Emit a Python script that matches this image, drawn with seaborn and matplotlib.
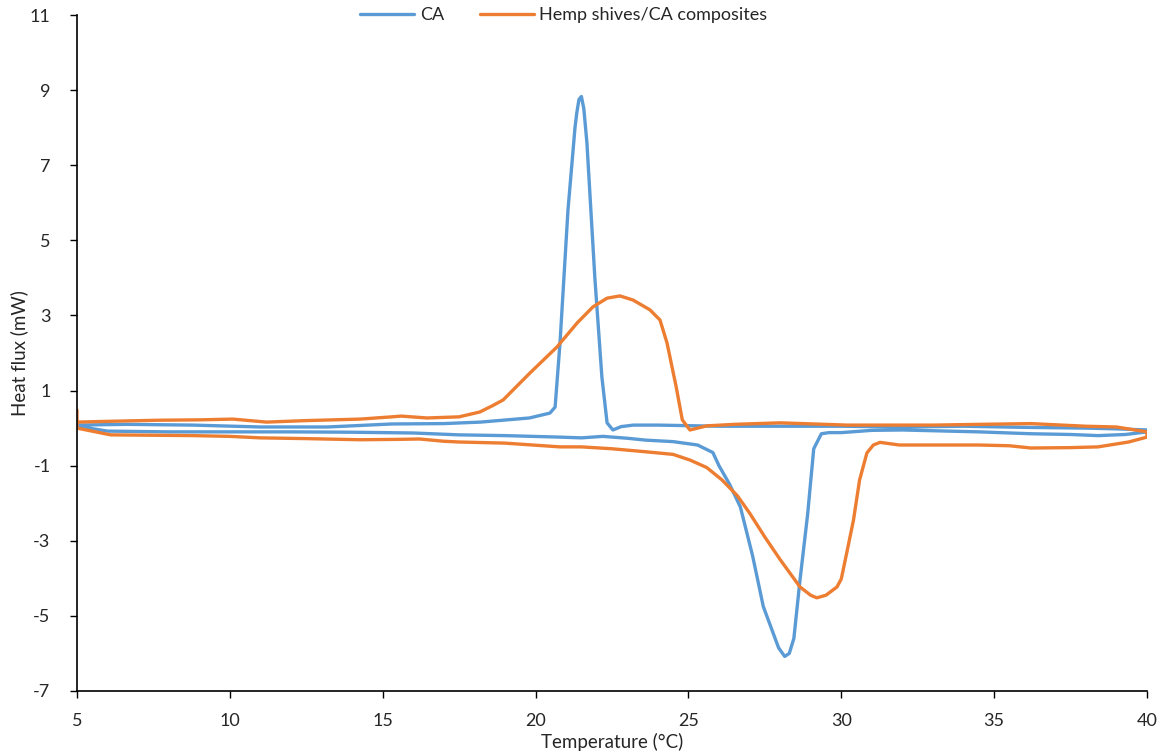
import pandas as pd
import matplotlib.pyplot as plt
import seaborn as sns

# CA: heating branch (5 -> 40 C), then cooling branch (40 -> 5 C)
ca_heat_t = [5.0, 6.0, 8.0, 10.0, 12.0, 14.0, 16.0, 17.5, 19.0, 20.8, 21.5, 22.2, 23.0, 23.6,
             24.5, 25.3, 25.8, 26.0, 26.35, 26.7, 27.1, 27.45, 27.7, 27.95, 28.15, 28.3, 28.45,
             28.65, 28.9, 29.1, 29.35, 29.6, 30.0, 31.0, 32.0, 33.0, 34.5, 36.2, 37.5, 38.4,
             39.3, 40.0]
ca_heat_v = [0.05, -0.08, -0.1, -0.1, -0.1, -0.11, -0.13, -0.18, -0.2, -0.24, -0.26, -0.22,
             -0.27, -0.32, -0.36, -0.45, -0.65, -1.0, -1.5, -2.1, -3.4, -4.75, -5.3, -5.85,
             -6.08, -6.0, -5.6, -4.05, -2.3, -0.55, -0.15, -0.12, -0.12, -0.06, -0.05, -0.07,
             -0.1, -0.15, -0.17, -0.2, -0.17, -0.1]
ca_cool_t = [40.0, 39.0, 38.0, 36.0, 34.0, 32.0, 30.0, 28.0, 26.0, 24.0, 23.2, 22.8, 22.53,
             22.34, 22.17, 21.94, 21.68, 21.58, 21.5, 21.42, 21.35, 21.29, 21.06, 20.8, 20.64,
             20.47, 19.8, 18.2, 17.0, 15.3, 13.2, 11.0, 8.8, 6.6, 5.0]
ca_cool_v = [-0.05, -0.02, 0.0, 0.02, 0.05, 0.03, 0.05, 0.05, 0.05, 0.08, 0.08, 0.04, -0.05,
             0.14, 1.36, 4.0, 7.6, 8.5, 8.83, 8.75, 8.4, 8.0, 5.8, 2.27, 0.56, 0.4, 0.27, 0.16,
             0.12, 0.11, 0.03, 0.03, 0.08, 0.1, 0.08]

# Hemp shives/CA composites
hc_heat_t = [5.0, 5.0, 6.1, 7.5, 8.8, 10.0, 11.0, 12.5, 14.26, 15.5, 16.2, 17.0, 17.5, 19.0,
             20.8, 21.5, 22.5, 23.6, 24.5, 25.05, 25.6, 26.1, 26.6, 27.0, 27.5, 28.0, 28.65,
             29.0, 29.2, 29.5, 29.86, 30.0, 30.18, 30.4, 30.6, 30.84, 31.05, 31.27, 31.9, 33.0,
             34.5, 35.5, 36.2, 37.5, 38.4, 39.4, 40.0]
hc_heat_v = [0.48, 0.0, -0.18, -0.19, -0.2, -0.22, -0.26, -0.28, -0.31, -0.3, -0.29, -0.35,
             -0.37, -0.4, -0.5, -0.5, -0.55, -0.63, -0.7, -0.85, -1.05, -1.38, -1.8, -2.26,
             -2.9, -3.5, -4.23, -4.45, -4.52, -4.45, -4.23, -4.02, -3.32, -2.45, -1.38, -0.66,
             -0.45, -0.38, -0.45, -0.45, -0.45, -0.47, -0.53, -0.52, -0.5, -0.37, -0.24]
hc_cool_t = [40.0, 39.0, 38.0, 36.2, 34.5, 33.0, 31.3, 30.2, 28.0, 26.5, 25.6, 25.2, 25.05,
             24.8, 24.6, 24.3, 24.07, 23.74, 23.19, 22.76, 22.34, 21.88, 21.36, 20.7, 19.82,
             18.94, 18.6, 18.18, 17.5, 16.45, 15.6, 15.3, 14.26, 12.5, 11.2, 10.1, 9.0, 7.7,
             6.0, 5.0]
hc_cool_v = [-0.1, 0.03, 0.05, 0.12, 0.1, 0.08, 0.08, 0.08, 0.14, 0.1, 0.06, -0.02, -0.05,
             0.22, 1.1, 2.27, 2.88, 3.15, 3.41, 3.52, 3.46, 3.23, 2.8, 2.16, 1.47, 0.75, 0.6,
             0.43, 0.3, 0.27, 0.32, 0.3, 0.24, 0.2, 0.16, 0.24, 0.22, 0.21, 0.18, 0.16]

labels = ["CA", "Hemp shives/CA composites"]
colors = ["#5B9BD5", "#ED7D31"]

frames = []
for lab, t, v in [(labels[0], ca_heat_t + ca_cool_t, ca_heat_v + ca_cool_v),
                  (labels[1], hc_heat_t + hc_cool_t, hc_heat_v + hc_cool_v)]:
    frames.append(pd.DataFrame({"temp": t, "flux": v, "series": lab}))
df = pd.concat(frames, ignore_index=True)

sns.set_style("ticks")
plt.rcParams['font.family'] = ['Lato', 'DejaVu Sans']
plt.rcParams['axes.unicode_minus'] = False

fig = plt.figure(figsize=(11.65, 7.55), dpi=100)
ax = fig.add_axes([0.0661, 0.0848, 0.9184, 0.8953])

sns.lineplot(data=df, x="temp", y="flux", hue="series", hue_order=labels,
             palette=colors, sort=False, estimator=None, linewidth=2.4, ax=ax)

ax.set_xlim(5, 40)
ax.set_ylim(-7, 11)
ax.set_xticks(range(5, 41, 5))
ax.set_yticks(range(-7, 12, 2))
ax.tick_params(axis="both", labelsize=13, length=5, width=1, color="black")
ax.tick_params(axis="x", pad=10.5)
ax.tick_params(axis="y", pad=14)
ax.set_xlabel("Temperature (°C)", fontsize=13.5, labelpad=3)
ax.set_ylabel("Heat flux (mW)", fontsize=13.5, labelpad=1)
for s in ["top", "right"]:
    ax.spines[s].set_visible(False)
for s in ["left", "bottom"]:
    ax.spines[s].set_color("black")
    ax.spines[s].set_linewidth(1.2)

ax.legend(loc="center", bbox_to_anchor=(0.455, 1.0), ncol=2, frameon=False,
          fontsize=13, handlelength=3, columnspacing=2.0, handletextpad=0.3)

fig.savefig("out.png", dpi=100)
